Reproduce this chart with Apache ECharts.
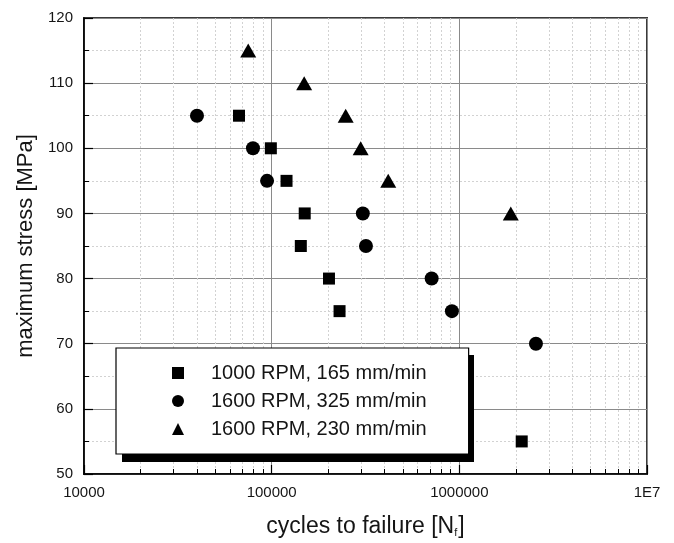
<!DOCTYPE html>
<html>
<head>
<meta charset="utf-8">
<script src="https://cdn.jsdelivr.net/npm/echarts@6/dist/echarts.min.js"></script>
<style>
  html, body { margin: 0; padding: 0; background: #fff; }
  #chart { width: 674px; height: 543px; }
</style>
</head>
<body>
<div id="chart"></div>
<script>
// S-N fatigue data: cycles to failure vs. maximum stress for three process settings
const seriesNames = ['1000 RPM, 165 mm/min', '1600 RPM, 325 mm/min', '1600 RPM, 230 mm/min'];

const cyclesA = [67000, 99000, 120000, 150000, 143000, 202000, 230000, 2150000];
const stressA = [105, 100, 95, 90, 85, 80, 75, 55];

const cyclesB = [40000, 79500, 94500, 306000, 318000, 712000, 913000, 2560000];
const stressB = [105, 100, 95, 90, 85, 80, 75, 70];

const cyclesC = [75000, 149000, 248000, 298000, 418000, 1880000];
const stressC = [115, 110, 105, 100, 95, 90];

const xTickValues = [1e4, 1e5, 1e6, 1e7];
const xTickLabels = ['10000', '100000', '1000000', '1E7'];

const FONT = '"Liberation Sans", Arial, Helvetica, sans-serif';
const INK = '#151515';

// legend frame placement (box plus a solid drop shadow behind it)
const LEGEND_LEFT = 116, LEGEND_TOP = 348, LEGEND_W = 352, LEGEND_H = 107;
const SHADOW_DX = 6, SHADOW_DY = 7;

const zip = (xs, ys) => xs.map((x, i) => [x, ys[i]]);
const solidBlack = { color: '#000', opacity: 1 };

const chart = echarts.init(document.getElementById('chart'), null, { renderer: 'canvas' });

chart.setOption({
  animation: false,
  backgroundColor: '#fff',
  grid: {
    left: 84, right: 27, top: 18, bottom: 68,
    show: true, borderColor: '#3a3a3a', borderWidth: 2, backgroundColor: 'transparent'
  },
  xAxis: {
    type: 'log',
    logBase: 10,
    min: 1e4,
    max: 1e7,
    name: '{t|cycles to failure [N}{s|f}{t|]}',
    nameLocation: 'middle',
    nameGap: 41,
    nameTextStyle: {
      rich: {
        t: { fontSize: 23, fontFamily: FONT, color: INK },
        s: { fontSize: 11, fontFamily: FONT, color: INK, verticalAlign: 'bottom', padding: [0, 1, 0, 0] }
      }
    },
    axisLine: { show: true, onZero: false, lineStyle: { color: '#000', width: 1.6 } },
    axisTick: { show: true, inside: true, length: 9, lineStyle: { color: '#000', width: 1.2 } },
    minorTick: { show: true, splitNumber: 9, length: 5, lineStyle: { color: '#000', width: 1 } },
    axisLabel: {
      fontSize: 15, fontFamily: FONT, color: INK, margin: 11,
      formatter: (v) => {
        const i = xTickValues.findIndex(t => Math.abs(t - v) / t < 1e-6);
        return i >= 0 ? xTickLabels[i] : '';
      }
    },
    splitLine: { show: true, lineStyle: { color: '#8a8a8a', width: 1 } },
    minorSplitLine: { show: true, lineStyle: { color: '#d2d2d2', width: 1, type: [2, 2] } }
  },
  yAxis: {
    type: 'value',
    min: 50,
    max: 120,
    interval: 10,
    name: 'maximum stress [MPa]',
    nameLocation: 'middle',
    nameGap: 47,
    nameTextStyle: { fontSize: 22, fontFamily: FONT, color: INK },
    axisLine: { show: true, onZero: false, lineStyle: { color: '#000', width: 1.6 } },
    axisTick: { show: true, inside: true, length: 9, lineStyle: { color: '#000', width: 1.2 } },
    minorTick: { show: true, splitNumber: 2, length: 5, lineStyle: { color: '#000', width: 1 } },
    axisLabel: { fontSize: 15, fontFamily: FONT, color: INK, margin: 11 },
    splitLine: { show: true, lineStyle: { color: '#8a8a8a', width: 1 } },
    minorSplitLine: { show: true, lineStyle: { color: '#d2d2d2', width: 1, type: [2, 2] } }
  },
  graphic: [
    {
      type: 'rect',
      z: 3,
      silent: true,
      shape: { x: LEGEND_LEFT + SHADOW_DX, y: LEGEND_TOP + SHADOW_DY, width: LEGEND_W, height: LEGEND_H },
      style: { fill: '#000' }
    }
  ],
  legend: {
    orient: 'vertical',
    left: LEGEND_LEFT,
    top: LEGEND_TOP,
    padding: [15, 42, 15, 56],
    itemGap: 8,
    itemWidth: 12,
    itemHeight: 12,
    z: 5,
    backgroundColor: '#fff',
    borderColor: '#000',
    borderWidth: 1.2,
    selectedMode: false,
    itemStyle: solidBlack,
    textStyle: { fontSize: 20, fontFamily: FONT, color: INK, padding: [0, 0, 0, 22] },
    data: [
      { name: seriesNames[0], icon: 'rect' },
      { name: seriesNames[1], icon: 'circle' },
      { name: seriesNames[2], icon: 'triangle' }
    ]
  },
  series: [
    {
      name: seriesNames[0], type: 'scatter', symbol: 'rect', symbolSize: 12,
      itemStyle: solidBlack, data: zip(cyclesA, stressA)
    },
    {
      name: seriesNames[1], type: 'scatter', symbol: 'circle', symbolSize: 14,
      itemStyle: solidBlack, data: zip(cyclesB, stressB)
    },
    {
      name: seriesNames[2], type: 'scatter', symbol: 'triangle', symbolSize: [16, 14],
      itemStyle: solidBlack, data: zip(cyclesC, stressC)
    }
  ]
});
</script>
</body>
</html>
